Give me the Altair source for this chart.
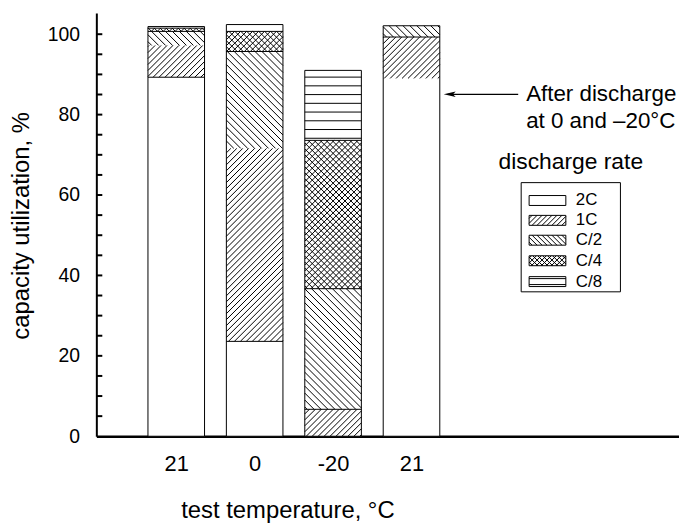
import json
import numpy as np
import pandas as pd
import altair as alt

# ---------------- data ----------------
TEMPS = ["21", "0", "-20", "21"]
RATES = ["2C", "1C", "C/2", "C/4", "C/8"]
CAP_2C = [89.3, 23.6, 0.0, 89.0]
CAP_1C = [7.9, 48.0, 6.7, 10.3]
CAP_C2 = [3.5, 24.1, 30.0, 2.8]
CAP_C4 = [0.8, 5.0, 36.9, 0.0]
CAP_C8 = [0.4, 1.7, 17.4, 0.0]
Y_LABEL_TICKS = [0, 20, 40, 60, 80, 100]
Y_MINOR_TICKS = list(range(5, 105, 5))

X_TITLE = "test temperature, \u00b0C"
Y_TITLE = "capacity utilization, %"
ANNOT_LINES = ["After discharge", "at 0 and \u201320\u00b0C"]
LEGEND_TITLE = "discharge rate"

# segments (bar index, rate) whose lower edge has no separating line in the original
JOINED = {(0, "C/2"), (1, "C/2"), (3, "1C")}

# ---------------- layout ----------------
FONT = "Liberation Sans"
W, H = 587, 426.5
XP = 79.0                      # px per category slot
XMIN = -0.019
XMAX = XMIN + W / XP
YMAX = 105.3
YP = H / YMAX
HALF = 28.5 / XP

HATCH = {"2C": None, "1C": "/", "C/2": "\\", "C/4": "x", "C/8": "h"}
SPACING = {"1C": 6.0, "C/2": 7.0, "C/4": 6.0, "C/8": 8.8}


def px2x(px):
    return XMIN + px / XP


def py2y(py):
    return (H - py) / YP


def hatch(x0, x1, y0, y1, kind, s, phase=0.0):
    X0, X1, Y0, Y1 = x0 * XP, x1 * XP, y0 * YP, y1 * YP
    segs = []
    if kind in ("/", "x"):
        n0 = int(np.floor((Y0 - X1 - phase) / s))
        n1 = int(np.ceil((Y1 - X0 - phase) / s))
        for n in range(n0, n1 + 1):
            k = phase + n * s
            xa = max(X0, Y0 - k)
            xb = min(X1, Y1 - k)
            if xb - xa > 0.4:
                segs.append((xa, xa + k, xb, xb + k))
    if kind in ("\\", "x"):
        n0 = int(np.floor((Y0 + X0 - phase) / s))
        n1 = int(np.ceil((Y1 + X1 - phase) / s))
        for n in range(n0, n1 + 1):
            k = phase + n * s
            xa = max(X0, k - Y1)
            xb = min(X1, k - Y0)
            if xb - xa > 0.4:
                segs.append((xa, k - xa, xb, k - xb))
    if kind == "h":
        n0 = int(np.floor((Y0 - phase) / s))
        n1 = int(np.ceil((Y1 - phase) / s))
        for n in range(n0, n1 + 1):
            Y = phase + n * s
            if Y0 + 0.8 < Y < Y1 - 0.8:
                segs.append((X0, Y, X1, Y))
    return [(a / XP, b / YP, c / XP, d / YP) for a, b, c, d in segs]


# ---------------- stacked bar segments ----------------
series = [CAP_2C, CAP_1C, CAP_C2, CAP_C4, CAP_C8]
seg_rows, hatch_rows, bar_rows, bound_rows = [], [], [], []
for i, t in enumerate(TEMPS):
    pos = i + 1
    base = 0.0
    x0, x1 = pos - HALF, pos + HALF
    first = True
    for r, vals in zip(RATES, series):
        v = vals[i]
        if v <= 0:
            continue
        y0, y1 = base, base + v
        base = y1
        seg_rows.append({"temp": t, "rate": r, "x0": x0, "x1": x1, "y0": y0, "y1": y1})
        if not first and (i, r) not in JOINED:
            bound_rows.append({"x0": x0, "x1": x1, "y": y0})
        first = False
        kind = HATCH[r]
        if kind:
            ph = 361.8 if kind == "h" else 0.0
            for xa, ya, xb, yb in hatch(x0, x1, y0, y1, kind, SPACING[r], ph):
                hatch_rows.append({"xa": xa, "ya": ya, "xb": xb, "yb": yb})
    bar_rows.append({"temp": t, "x0": x0, "x1": x1, "y0": 0.0, "y1": base})

seg_df = pd.DataFrame(seg_rows)
bar_df = pd.DataFrame(bar_rows)
bound_df = pd.DataFrame(bound_rows)

# ---------------- legend geometry (plot pixels -> data coords) ----------------
LEG_BOX = (428, 528, 171, 281)
LEG_ROWS = [189, 209, 229, 249.7, 270.7]
SW_X0, SW_X1, SW_H = 436, 473, 10
leg_rows, leg_labels = [], []
for r, cy in zip(RATES, LEG_ROWS):
    x0, x1 = px2x(SW_X0), px2x(SW_X1)
    y0, y1 = py2y(cy + SW_H / 2), py2y(cy - SW_H / 2)
    leg_rows.append({"x0": x0, "x1": x1, "y0": y0, "y1": y1})
    leg_labels.append({"label": r, "x": px2x(483), "y": py2y(cy)})
    kind = HATCH[r]
    if kind == "h":
        segs = hatch(x0, x1, y0, y1, "h", 6.0, H - cy + 3)
    elif kind:
        segs = hatch(x0, x1, y0, y1, kind, 5.0)
    else:
        segs = []
    for xa, ya, xb, yb in segs:
        hatch_rows.append({"xa": xa, "ya": ya, "xb": xb, "yb": yb})

hatch_df = pd.DataFrame(hatch_rows)
leg_df = pd.DataFrame(leg_rows)
leg_lab_df = pd.DataFrame(leg_labels)
box_df = pd.DataFrame([{"x0": px2x(LEG_BOX[0]), "x1": px2x(LEG_BOX[1]),
                        "y0": py2y(LEG_BOX[3]), "y1": py2y(LEG_BOX[2])}])
tick_df = pd.DataFrame({"v": Y_MINOR_TICKS})

# ---------------- scales / axes ----------------
xscale = alt.Scale(domain=[XMIN, XMAX], nice=False, zero=False)
yscale = alt.Scale(domain=[0, YMAX], nice=False, zero=False)

label_expr = f"{json.dumps(TEMPS)}[round(datum.value) - 1]"
xaxis = alt.Axis(values=[1, 2, 3, 4], labelExpr=label_expr, ticks=False, grid=False,
                 domainColor="black", domainWidth=2.5, labelFontSize=22,
                 labelPadding=18, labelColor="black", title=X_TITLE,
                 titleFontSize=24, titleFontWeight="normal", titleColor="black",
                 titleX=192.5, titleY=81.5, titleAlign="center",
                 titleBaseline="alphabetic")
yaxis = alt.Axis(values=Y_LABEL_TICKS, ticks=False, grid=False, domainColor="black",
                 domainWidth=2, labelFontSize=19.5, labelPadding=17, labelColor="black",
                 title=Y_TITLE, titleFontSize=24, titleFontWeight="normal",
                 titleColor="black", titleX=-75, titleY=214, titleAngle=270,
                 titleAlign="center", titleBaseline="middle")


def X(field):
    return alt.X(field, scale=xscale, axis=xaxis)


def Y(field):
    return alt.Y(field, scale=yscale, axis=yaxis)


fill_layer = alt.Chart(seg_df).mark_rect(fill="white", strokeWidth=0).encode(
    x=X("x0:Q"), x2="x1:Q", y=Y("y0:Q"), y2="y1:Q",
)

hatch_layer = alt.Chart(hatch_df).mark_rule(color="black", strokeWidth=1).encode(
    x=X("xa:Q"), x2="xb:Q", y=Y("ya:Q"), y2="yb:Q",
)

bound_layer = alt.Chart(bound_df).mark_rule(color="black", strokeWidth=1).encode(
    x=X("x0:Q"), x2="x1:Q", y=Y("y:Q"),
)

outline_layer = alt.Chart(bar_df).mark_rect(fillOpacity=0, stroke="black", strokeWidth=1).encode(
    x=X("x0:Q"), x2="x1:Q", y=Y("y0:Q"), y2="y1:Q",
)

ticks_layer = alt.Chart(tick_df).mark_rule(color="black", strokeWidth=2).encode(
    y=Y("v:Q"), x=alt.value(0), x2=alt.value(6),
)

# legend
box_layer = alt.Chart(box_df).mark_rect(fillOpacity=0, stroke="black", strokeWidth=1).encode(
    x=X("x0:Q"), x2="x1:Q", y=Y("y0:Q"), y2="y1:Q",
)
swatch_layer = alt.Chart(leg_df).mark_rect(fillOpacity=0, stroke="black", strokeWidth=1).encode(
    x=X("x0:Q"), x2="x1:Q", y=Y("y0:Q"), y2="y1:Q",
)
leg_text_layer = alt.Chart(leg_lab_df).mark_text(
    align="left", baseline="middle", fontSize=17, font=FONT, color="black"
).encode(x=X("x:Q"), y=Y("y:Q"), text="label:N")

leg_title_layer = alt.Chart().mark_text(
    text=LEGEND_TITLE, align="center", baseline="alphabetic", fontSize=23, font=FONT,
    color="black").encode(x=alt.value(478), y=alt.value(157))

# annotation with arrow
arrow_line = alt.Chart().mark_rule(color="black", strokeWidth=1.2).encode(
    x=alt.value(354), x2=alt.value(425), y=alt.value(82))
arrow_head = alt.Chart().mark_point(
    shape="M-1,0L1,-0.45L0.55,0L1,0.45Z", filled=True, color="black", opacity=1,
    size=144, strokeWidth=0).encode(x=alt.value(356), y=alt.value(82))
annot1 = alt.Chart().mark_text(
    text=ANNOT_LINES[0], align="left", baseline="alphabetic", fontSize=22.5, font=FONT,
    color="black").encode(x=alt.value(433), y=alt.value(89))
annot2 = alt.Chart().mark_text(
    text=ANNOT_LINES[1], align="left", baseline="alphabetic", fontSize=22.5, font=FONT,
    color="black").encode(x=alt.value(433), y=alt.value(116))

chart = alt.layer(
    fill_layer, hatch_layer, bound_layer, outline_layer, ticks_layer,
    box_layer, swatch_layer, leg_text_layer, leg_title_layer,
    arrow_line, arrow_head, annot1, annot2,
).properties(
    width=W, height=H,
    padding={"left": 89, "top": 3, "right": 0, "bottom": 90},
    autosize=alt.AutoSizeParams(type="none"),
    background="white",
).configure_axis(
    labelFont=FONT, titleFont=FONT,
).configure_view(strokeWidth=0)

chart.save("out.html", embed_options={"renderer": "svg", "actions": False})
